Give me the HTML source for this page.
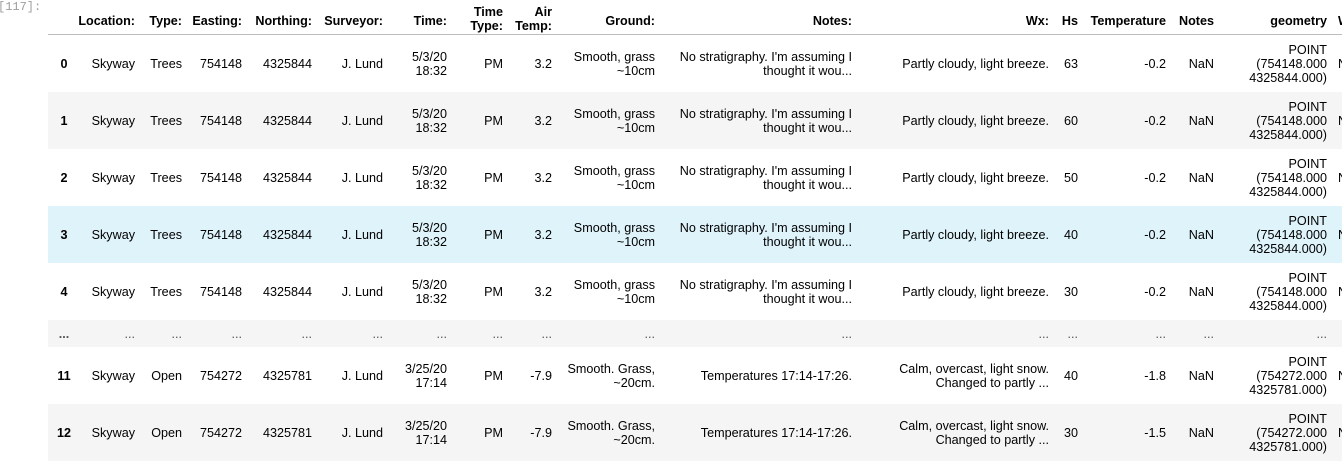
<!DOCTYPE html>
<html><head><meta charset="utf-8"><style>
body{margin:0;width:1342px;height:462px;overflow:hidden;background:#fff;position:relative;font-family:"Liberation Sans",Arial,sans-serif;font-size:12.6px;color:#000}
.c{position:absolute;white-space:nowrap;text-align:right;line-height:14px}
.h{font-weight:bold}
.row{position:absolute;left:48px;width:1294px}
.prompt{position:absolute;left:-2px;top:0;font-family:"Liberation Mono",monospace;font-size:12px;color:#9e9e9e;line-height:14px}
</style></head><body>
<div class="prompt">[117]:</div>
<div id="t"></div>
<script>
const rights=[70,135,182,242,312,383,447,503,552,655,852,1049,1078,1166,1214,1327,1338];
const headers=["","Location:","Type:","Easting:","Northing:","Surveyor:","Time:","Time<br>Type:","Air<br>Temp:","Ground:","Notes:","Wx:","Hs","Temperature","Notes","geometry","W"];
const rowA=["Skyway","Trees","754148","4325844","J. Lund","5/3/20<br>18:32","PM","3.2","Smooth, grass<br>~10cm","No stratigraphy. I'm assuming I<br>thought it wou...","Partly cloudy, light breeze."];
const rowB=["Skyway","Open","754272","4325781","J. Lund","3/25/20<br>17:14","PM","-7.9","Smooth. Grass,<br>~20cm.","Temperatures 17:14-17:26.","Calm, overcast, light snow.<br>Changed to partly ..."];
const rows=[
 ["0",...rowA,"63","-0.2","NaN","POINT<br>(754148.000<br>4325844.000)","N"],
 ["1",...rowA,"60","-0.2","NaN","POINT<br>(754148.000<br>4325844.000)","N"],
 ["2",...rowA,"50","-0.2","NaN","POINT<br>(754148.000<br>4325844.000)","N"],
 ["3",...rowA,"40","-0.2","NaN","POINT<br>(754148.000<br>4325844.000)","N"],
 ["4",...rowA,"30","-0.2","NaN","POINT<br>(754148.000<br>4325844.000)","N"],
 ["...","...","...","...","...","...","...","...","...","...","...","...","...","...","...","...",""],
 ["11",...rowB,"40","-1.8","NaN","POINT<br>(754272.000<br>4325781.000)","N"],
 ["12",...rowB,"30","-1.5","NaN","POINT<br>(754272.000<br>4325781.000)","N"]
];
const tops=[35,92,149,206,263,320,347,404];
const heights=[57,57,57,57,57,27,57,57];
const bgs=["#fff","#f5f5f5","#fff","#dff3fb","#fff","#f5f5f5","#fff","#f5f5f5"];
const T=document.getElementById('t');
const last=headers.length-1;
function lines(s){return s.split('<br>').length;}
headers.forEach((h,i)=>{
  const d=document.createElement('div');
  
  
  d.className='c h';
  d.innerHTML=h;
  if(i===last){d.style.left=rights[i]+'px';d.style.textAlign='left';}
  else d.style.right=(1342-rights[i])+'px';
  d.style.top=(lines(h)===2?5:14)+'px';
  T.appendChild(d);
});
const line=document.createElement('div');


line.style.cssText='position:absolute;left:48px;top:34px;width:1294px;height:1px;background:#bdbdbd';
T.appendChild(line);
rows.forEach((r,ri)=>{
  const bg=document.createElement('div');
  
  
  bg.className='row';
  bg.style.top=tops[ri]+'px';bg.style.height=heights[ri]+'px';bg.style.background=bgs[ri];
  T.appendChild(bg);
  r.forEach((v,ci)=>{
    const d=document.createElement('div');
    
    
    d.className='c'+(ci===0?' h':'');
    d.innerHTML=v;
    const n=lines(v);
    if(ci===0){d.style.left='48px';d.style.width='32px';d.style.textAlign='center';}
    else if(ci===last){d.style.left=rights[ci]+'px';d.style.textAlign='left';}
    else d.style.right=(1342-rights[ci])+'px';
    d.style.top=(tops[ri]+heights[ri]/2-n*7)+'px';
    if(v==='...')d.style.color='#555';
    T.appendChild(d);
  });
});
</script>
</body></html>
